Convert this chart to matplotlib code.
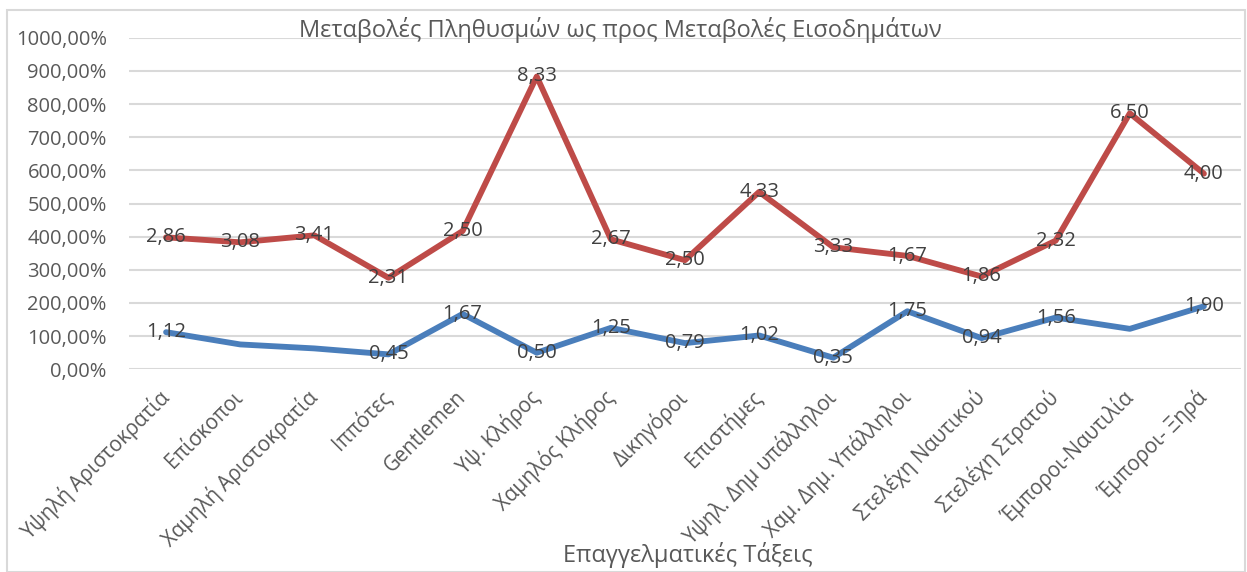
import numpy as np
import matplotlib
matplotlib.use("Agg")
from matplotlib import pyplot as plt
from matplotlib.patches import Rectangle

plt.rcParams['font.family'] = ['Open Sans', 'DejaVu Sans']

categories = ["Υψηλή Αριστοκρατία", "Επίσκοποι", "Χαμηλή Αριστοκρατία", "Ιππότες",
              "Gentlemen", "Υψ. Κλήρος", "Χαμηλός Κλήρος", "Δικηγόροι", "Επιστήμες",
              "Υψηλ. Δημ υπάλληλοι", "Χαμ. Δημ. Υπάλληλοι", "Στελέχη Ναυτικού",
              "Στελέχη Στρατού", "Έμποροι-Ναυτιλία", "Έμποροι- Ξηρά"]
# blue series (income changes), red series stacked on top of it
blue = [1.12, 0.75, 0.63, 0.45, 1.67, 0.50, 1.25, 0.79, 1.02, 0.35, 1.75, 0.94, 1.56, 1.22, 1.90]
red = [2.86, 3.08, 3.41, 2.31, 2.50, 8.33, 2.67, 2.50, 4.33, 3.33, 1.67, 1.86, 2.32, 6.50, 4.00]
blue_labeled = [True, False, False, True, True, True, True, True, True, True, True, True, True, False, True]

x = np.arange(len(categories))
blue_y = np.array(blue) * 100
red_y = (np.array(blue) + np.array(red)) * 100

fig = plt.figure(figsize=(12.47, 5.72), dpi=100)
ax = fig.add_axes([129 / 1247, 1 - 369.3 / 572, 1112 / 1247, (369.3 - 37.7) / 572])

ax.plot(x, blue_y, color="#4a7ebb", lw=4.2, solid_capstyle="round", solid_joinstyle="round", zorder=3)
ax.plot(x, red_y, color="#be4b48", lw=4.2, solid_capstyle="round", solid_joinstyle="round", zorder=3)

lab_kw = dict(ha="center", va="center", fontsize=14.5, color="#404040", zorder=4)
for i in range(len(x)):
    ax.text(x[i], red_y[i], f"{red[i]:.2f}".replace(".", ","), **lab_kw)
    if blue_labeled[i]:
        ax.text(x[i], blue_y[i], f"{blue[i]:.2f}".replace(".", ","), **lab_kw)

ax.set_xlim(-0.5, len(x) - 0.5)
ax.set_ylim(0, 1000)
ax.set_yticks(np.arange(0, 1001, 100))
ax.set_yticklabels([f"{v:.2f}".replace(".", ",") + "%" for v in np.arange(0, 1001, 100)])
ax.set_xticks(x)
ax.set_xticklabels(categories, rotation=45, ha="right", va="center", rotation_mode="anchor")
ax.tick_params(axis="y", length=0, pad=16, labelsize=14.5, labelcolor="#595959")
ax.tick_params(axis="x", length=0, pad=18, labelsize=14.8, labelcolor="#595959")
ax.grid(axis="y", color="#d9d9d9", lw=1.5)
ax.set_axisbelow(True)
for s in ax.spines.values():
    s.set_visible(False)

fig.text(620 / 1247, 1 - 30 / 572, "Μεταβολές Πληθυσμών ως προς Μεταβολές Εισοδημάτων",
         ha="center", va="center", fontsize=17, color="#595959")
fig.text(688 / 1247, 1 - 555 / 572, "Επαγγελματικές Τάξεις",
         ha="center", va="center", fontsize=17, color="#595959")

fig.patches.append(Rectangle((7 / 1247, 0), 1238 / 1247, 1 - 10 / 572, transform=fig.transFigure,
                             fill=False, edgecolor="#d9d9d9", lw=1.5))

fig.savefig("out.png", dpi=100)
